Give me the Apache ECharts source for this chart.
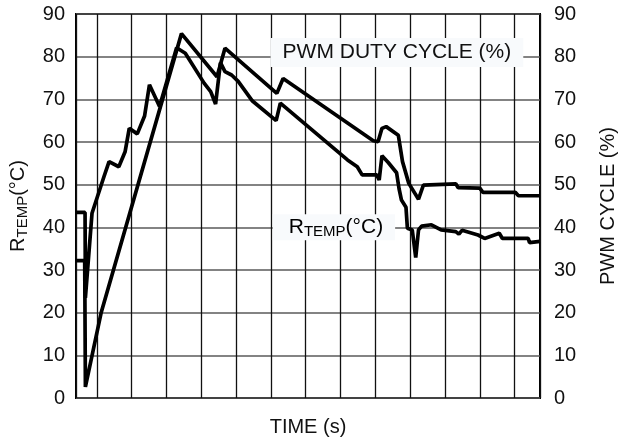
<!DOCTYPE html>
<html>
<head>
<meta charset="utf-8">
<script src="https://cdn.jsdelivr.net/npm/echarts@6/dist/echarts.min.js"></script>
<style>
  html, body { margin: 0; padding: 0; background: #fff; }
  #chart { width: 626px; height: 445px; }
</style>
</head>
<body>
<div id="chart"></div>
<script>
// Time runs in grid divisions (arbitrary units); duty and temperature in % / °C.
const pwmTime = [-0.6, -0.35, -0.33, 0.12, 2.43, 3.45, 3.68, 5.17, 5.35, 7.94, 8.08, 8.19, 8.31,
  8.66, 8.78, 8.96, 9.24, 9.38, 10.31, 10.38, 11.0, 11.09, 12.02, 12.11, 12.73];
const pwmDuty = [32.2, 32.2, 2.6, 19.9, 85.4, 75.3, 82.0, 71.4, 74.9, 60.3, 60.1, 63.2, 63.6,
  61.6, 55.4, 50.3, 46.6, 49.9, 50.2, 49.3, 49.2, 48.2, 48.2, 47.4, 47.4];

const rtempTime = [-0.6, -0.34, -0.33, -0.14, 0.20, 0.35, 0.63, 0.81, 0.93, 1.16, 1.37, 1.51, 1.8,
  2.29, 2.54, 3.08, 3.27, 3.41, 3.55, 3.68, 3.87, 4.06, 4.47, 5.15, 5.27, 7.20, 7.48, 7.62, 8.04,
  8.11, 8.19, 8.37, 8.61, 8.68, 8.75, 8.88, 8.92, 9.06, 9.16, 9.24, 9.33, 9.61, 9.89, 10.31, 10.40,
  10.49, 10.95, 11.14, 11.56, 11.65, 12.39, 12.43, 12.73];
const rtempValue = [43.5, 43.5, 23.5, 43.3, 51.8, 55.4, 54.2, 57.7, 63.2, 61.9, 66.1, 73.4, 68.3,
  82.1, 80.8, 73.8, 71.8, 68.9, 78.6, 76.5, 75.7, 74.2, 69.6, 65.0, 69.1, 55.8, 54.2, 52.3, 52.3,
  51.1, 56.8, 55.2, 52.8, 49.1, 46.4, 44.7, 39.8, 39.4, 32.9, 39.4, 40.3, 40.6, 39.4, 39.0, 38.4,
  39.3, 38.2, 37.4, 38.6, 37.4, 37.4, 36.4, 36.7];

const timeRange = [-0.6, 12.73];
const yRange = [0, 90];
const yStep = 10;

// In-plot series captions: [time, value] of the caption centre
const pwmCaptionAt = [8.62, 81];
const rtempCaptionAt = [6.81, 40];

const FONT = '"Liberation Sans", Arial, Helvetica, sans-serif';
const INK = '#111';

const zip = (xs, ys) => xs.map((x, i) => [x, ys[i]]);

const chart = echarts.init(document.getElementById('chart'), null, { renderer: 'canvas' });

const titleRich = {
  r: { fontSize: 20, fontFamily: FONT, color: INK },
  s: { fontSize: 15, fontFamily: FONT, color: INK, padding: [9, 0, 0, 0] }
};
const captionRich = {
  r: { fontSize: 21, fontFamily: FONT, color: INK },
  s: { fontSize: 15, fontFamily: FONT, color: INK, padding: [9, 0, 0, 0] }
};

chart.setOption({
  animation: false,
  backgroundColor: '#fff',
  grid: {
    left: 74, right: 72, top: 14, bottom: 47,
    show: true, borderColor: '#000', borderWidth: 2, backgroundColor: 'transparent'
  },
  xAxis: {
    type: 'value',
    min: timeRange[0], max: timeRange[1],
    minInterval: 1, maxInterval: 1,
    name: 'TIME (s)',
    nameLocation: 'middle',
    nameGap: 19,
    nameTextStyle: { fontSize: 20, fontFamily: FONT, color: INK },
    axisLine: { show: false },
    axisTick: { show: false },
    axisLabel: { show: false },
    splitLine: { show: true, lineStyle: { color: '#111', width: 1.3 } }
  },
  yAxis: [
    {
      type: 'value', position: 'left',
      min: yRange[0], max: yRange[1], interval: yStep,
      name: '{r|R}{s|TEMP}{r|(°C)}',
      nameLocation: 'middle',
      nameGap: 46,
      nameTextStyle: { rich: titleRich },
      axisLine: { show: false },
      axisTick: { show: false },
      axisLabel: { margin: 11, fontSize: 20, fontFamily: FONT, color: INK },
      splitLine: { show: true, lineStyle: { color: '#5a5a5a', width: 1.5 } }
    },
    {
      type: 'value', position: 'right',
      min: yRange[0], max: yRange[1], interval: yStep,
      name: 'PWM CYCLE (%)',
      nameLocation: 'middle',
      nameGap: 58,
      nameTextStyle: { fontSize: 20, fontFamily: FONT, color: INK },
      axisLine: { show: false },
      axisTick: { show: false },
      axisLabel: { margin: 14, fontSize: 20, fontFamily: FONT, color: INK },
      splitLine: { show: false }
    }
  ],
  series: [
    {
      name: 'PWM DUTY CYCLE (%)',
      type: 'line',
      yAxisIndex: 1,
      data: zip(pwmTime, pwmDuty),
      showSymbol: false,
      lineStyle: { color: '#000', width: 3.7 },
      z: 3
    },
    {
      name: 'RTEMP (°C)',
      type: 'line',
      yAxisIndex: 0,
      data: zip(rtempTime, rtempValue),
      showSymbol: false,
      lineStyle: { color: '#000', width: 3.7 },
      z: 3
    }
  ]
});

// Captions sit on a pale box that masks the grid behind them
const pwmPos = chart.convertToPixel({ xAxisIndex: 0, yAxisIndex: 1 }, pwmCaptionAt);
const rtPos = chart.convertToPixel({ xAxisIndex: 0, yAxisIndex: 0 }, rtempCaptionAt);

chart.setOption({
  graphic: [
    {
      type: 'text', z: 1,
      x: pwmPos[0], y: pwmPos[1],
      style: {
        text: 'PWM DUTY CYCLE (%)',
        fontSize: 21, fontFamily: FONT, fill: INK,
        align: 'center', verticalAlign: 'middle',
        backgroundColor: '#f8fafc', padding: [4, 12, 4, 12]
      }
    },
    {
      type: 'text', z: 1,
      x: rtPos[0], y: rtPos[1],
      style: {
        text: '{r|R}{s|TEMP}{r|(°C)}',
        rich: captionRich,
        align: 'center', verticalAlign: 'middle',
        backgroundColor: '#f8fafc', padding: [1, 12, 1, 16]
      }
    }
  ]
});
</script>
</body>
</html>
